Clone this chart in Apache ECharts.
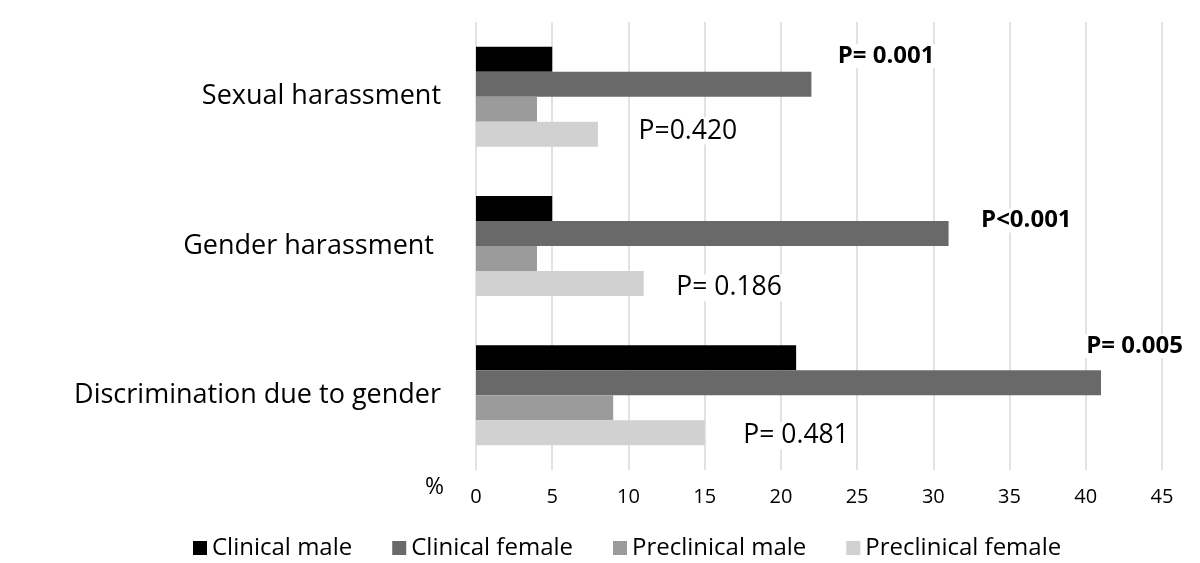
<!DOCTYPE html>
<html>
<head>
<meta charset="utf-8">
<script src="https://cdn.jsdelivr.net/npm/echarts@6/dist/echarts.min.js"></script>
<style>html,body{margin:0;padding:0;background:#fff;}#chart{width:1200px;height:563px;}</style>
</head>
<body>
<div id="chart"></div>
<script>
const categories = ['Sexual harassment', 'Gender harassment ', 'Discrimination due to gender'];
const seriesNames = ['Clinical male', 'Clinical female', 'Preclinical male', 'Preclinical female'];
const clinicalMale = [5, 5, 21];
const clinicalFemale = [22, 31, 41];
const preclinicalMale = [4, 4, 9];
const preclinicalFemale = [8, 11, 15];
const xTicks = [0, 5, 10, 15, 20, 25, 30, 35, 40, 45];
const axisUnit = '%';
// p-value annotations: [x value, y position in category units, text, bold]
const pLabels = [
  [26.9, -0.27, 'P= 0.001', true],
  [13.9, 0.23, 'P=0.420', false],
  [36.1, 0.83, 'P<0.001', true],
  [16.6, 1.28, 'P= 0.186', false],
  [43.2, 1.67, 'P= 0.005', true],
  [21.0, 2.27, 'P= 0.481', false]
];

const colors = ['#000000', '#696969', '#9b9b9b', '#d1d1d1'];
const FONT = 'Open Sans';
const values = [clinicalMale, clinicalFemale, preclinicalMale, preclinicalFemale];

const chart = echarts.init(document.getElementById('chart'), null, {renderer: 'canvas'});
const barSeries = seriesNames.map((name, i) => ({
  name: name,
  type: 'bar',
  data: values[i],
  barGap: '0%',
  barCategoryGap: '33%',
  itemStyle: {color: colors[i]},
  z: 2
}));

const option = {
  backgroundColor: '#ffffff',
  animation: false,
  textStyle: {fontFamily: FONT},
  grid: {left: 476, right: 38, top: 22, bottom: 93, containLabel: false},
  legend: {
    top: 531,
    left: 188,
    itemWidth: 14,
    itemHeight: 14,
    itemGap: 40,
    icon: 'rect',
    textStyle: {fontSize: 24, color: '#000', fontFamily: FONT},
    data: seriesNames
  },
  xAxis: {
    type: 'value',
    min: xTicks[0],
    max: xTicks[xTicks.length - 1],
    interval: 5,
    axisLine: {show: false},
    axisTick: {show: false},
    axisLabel: {fontSize: 20, color: '#000', margin: 17},
    splitLine: {show: true, lineStyle: {color: '#d9d9d9', width: 1.5}}
  },
  yAxis: [{
    type: 'category',
    data: categories,
    inverse: true,
    axisLine: {show: false},
    axisTick: {show: false},
    axisLabel: {fontSize: 27, color: '#000', margin: 35}
  }, {
    type: 'value',
    min: -0.5,
    max: 2.5,
    inverse: true,
    show: false
  }],
  series: barSeries.concat([{
    type: 'scatter',
    yAxisIndex: 1,
    symbolSize: 0,
    silent: true,
    z: 5,
    itemStyle: {opacity: 1},
    data: pLabels.map(p => ({
      value: [p[0], p[1]],
      label: {fontWeight: p[3] ? 'bold' : 'normal', fontSize: p[3] ? 24 : 26.5, formatter: p[2]}
    })),
    label: {
      show: true,
      position: 'inside',
      color: '#000',
      opacity: 1,
      fontFamily: FONT,
      backgroundColor: '#fff',
      padding: [0, 4]
    }
  }])
};
chart.setOption(option);

// axis unit label, placed just left of the x-axis origin
const origin = chart.convertToPixel({xAxisIndex: 0}, xTicks[0]);
chart.setOption({
  graphic: [{
    type: 'text',
    x: origin - 32,
    y: 487,
    style: {text: axisUnit, fontSize: 23, fontFamily: FONT, fill: '#000', align: 'right', verticalAlign: 'middle'}
  }]
});
</script>
</body>
</html>
